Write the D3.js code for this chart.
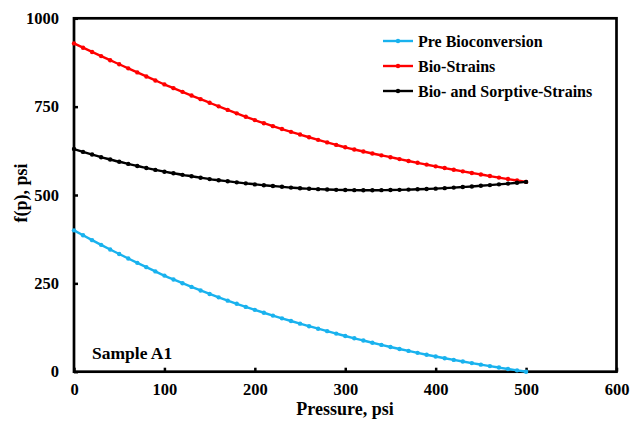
<!DOCTYPE html>
<html>
<head>
<meta charset="utf-8">
<script src="https://cdn.jsdelivr.net/npm/d3@7"></script>
<style>
  html, body { margin: 0; padding: 0; background: #fff; }
  svg { display: block; }
  text { font-family: "Liberation Serif", "Times New Roman", serif; font-weight: bold; fill: #000; }
</style>
</head>
<body>
<script>
// ---- Data ----
const pressure = d3.range(0, 501, 10);
const preBioconversion = [400.0, 386.0, 372.3, 358.9, 345.8, 333.0, 320.4, 308.0, 295.8, 283.8,
  272.0, 261.0, 250.4, 240.0, 229.9, 220.0, 210.4, 201.1, 192.1, 183.4,
  175.0, 166.8, 158.8, 151.0, 143.4, 136.0, 128.8, 121.7, 114.7, 107.8,
  101.0, 94.5, 88.2, 82.0, 75.9, 70.0, 64.3, 58.8, 53.4, 48.1,
  43.0, 38.1, 33.4, 28.8, 24.3, 20.0, 15.8, 11.7, 7.7, 3.8, 0.0];
const bioStrains = [929.0, 916.8, 904.8, 893.0, 881.4, 870.0, 858.4, 846.9, 835.5, 824.2,
  813.0, 802.4, 791.9, 781.5, 771.2, 761.0, 750.8, 740.8, 731.0, 721.4,
  712.0, 703.2, 694.8, 686.6, 678.7, 671.0, 663.4, 656.0, 648.8, 641.8,
  635.0, 628.8, 623.0, 617.5, 612.2, 607.0, 601.6, 596.3, 591.1, 586.0,
  581.0, 576.2, 571.5, 566.9, 562.4, 558.0, 553.6, 549.3, 545.1, 541.0, 537.0];
const bioSorptiveStrains = [630.0, 622.0, 614.5, 607.0, 600.5, 594.0, 588.0, 582.0, 576.5, 571.0,
  566.0, 561.5, 557.0, 553.0, 549.0, 545.0, 541.8, 538.8, 535.8, 533.0,
  530.0, 527.6, 525.4, 523.2, 521.0, 519.0, 517.8, 516.6, 515.5, 514.6,
  514.0, 513.7, 513.5, 513.5, 513.7, 514.0, 514.6, 515.3, 516.1, 517.0,
  518.0, 519.4, 520.9, 522.5, 524.2, 526.0, 528.0, 530.1, 532.3, 534.6, 537.0];
const seriesNames = ["Pre Bioconversion", "Bio-Strains", "Bio- and Sorptive-Strains"];
const seriesColors = ["#19B2EE", "#FF0000", "#000000"];
const xTicks = [0, 100, 200, 300, 400, 500, 600];
const yTicks = [0, 250, 500, 750, 1000];

// ---- Layout ----
const W = 630, H = 421;
const mLeft = 74, mRight = 616.5, mTop = 18.3, mBottom = 371.7;

const svg = d3.select("body").append("svg").attr("width", W).attr("height", H);

const x = d3.scaleLinear().domain([0, 600]).range([mLeft, mRight]);
const y = d3.scaleLinear().domain([0, 1000]).range([mBottom, mTop]);

// axes (ticks inward)
const fmt = d3.format("d");
const xAxis = d3.axisBottom(x).tickValues(xTicks).tickFormat(fmt).tickSizeInner(-4).tickSizeOuter(0).tickPadding(12);
const yAxis = d3.axisLeft(y).tickValues(yTicks).tickFormat(fmt).tickSizeInner(-4).tickSizeOuter(0).tickPadding(15);

const gx = svg.append("g").attr("transform", `translate(0,${mBottom})`).call(xAxis);
const gy = svg.append("g").attr("transform", `translate(${mLeft},0)`).call(yAxis);
[gx, gy].forEach(g => {
  g.select(".domain").remove();
  g.selectAll(".tick line").attr("stroke", "#000").attr("stroke-width", 2.5);
  g.selectAll(".tick text").style("font-size", "16.5px").style("font-family", "'Liberation Serif', serif").style("font-weight", "bold");
});

// frame
svg.append("rect").attr("x", mLeft).attr("y", mTop)
  .attr("width", mRight - mLeft).attr("height", mBottom - mTop)
  .attr("fill", "none").attr("stroke", "#000").attr("stroke-width", 2.7);

// series
const allSeries = [preBioconversion, bioStrains, bioSorptiveStrains];
const line = d3.line().x((d, i) => x(pressure[i])).y(d => y(d)).curve(d3.curveMonotoneX);
allSeries.forEach((vals, si) => {
  const g = svg.append("g");
  g.append("path").datum(vals).attr("d", line)
    .attr("fill", "none").attr("stroke", seriesColors[si]).attr("stroke-width", 2.4);
  g.selectAll("circle").data(vals).enter().append("circle")
    .attr("cx", (d, i) => x(pressure[i])).attr("cy", d => y(d))
    .attr("r", 2.2).attr("fill", seriesColors[si]);
});

// legend
const legX = 383, legY0 = 41, legDy = 25;
seriesNames.forEach((name, i) => {
  const yy = legY0 + i * legDy;
  svg.append("line").attr("x1", legX).attr("x2", legX + 30).attr("y1", yy).attr("y2", yy)
    .attr("stroke", seriesColors[i]).attr("stroke-width", 2.4);
  svg.append("circle").attr("cx", legX + 15).attr("cy", yy).attr("r", 2.2).attr("fill", seriesColors[i]);
  svg.append("text").attr("x", legX + 35).attr("y", yy + 5.5).style("font-size", "16px").text(name);
});

// annotation
svg.append("text").attr("x", 92).attr("y", 359).style("font-size", "17.5px").text("Sample A1");

// axis titles
svg.append("text").attr("x", 345).attr("y", 415).attr("text-anchor", "middle")
  .style("font-size", "18px").text("Pressure, psi");
svg.append("text").attr("transform", `translate(27,193) rotate(-90)`)
  .attr("text-anchor", "middle").style("font-size", "18px").text("f(p), psi");
</script>
</body>
</html>
